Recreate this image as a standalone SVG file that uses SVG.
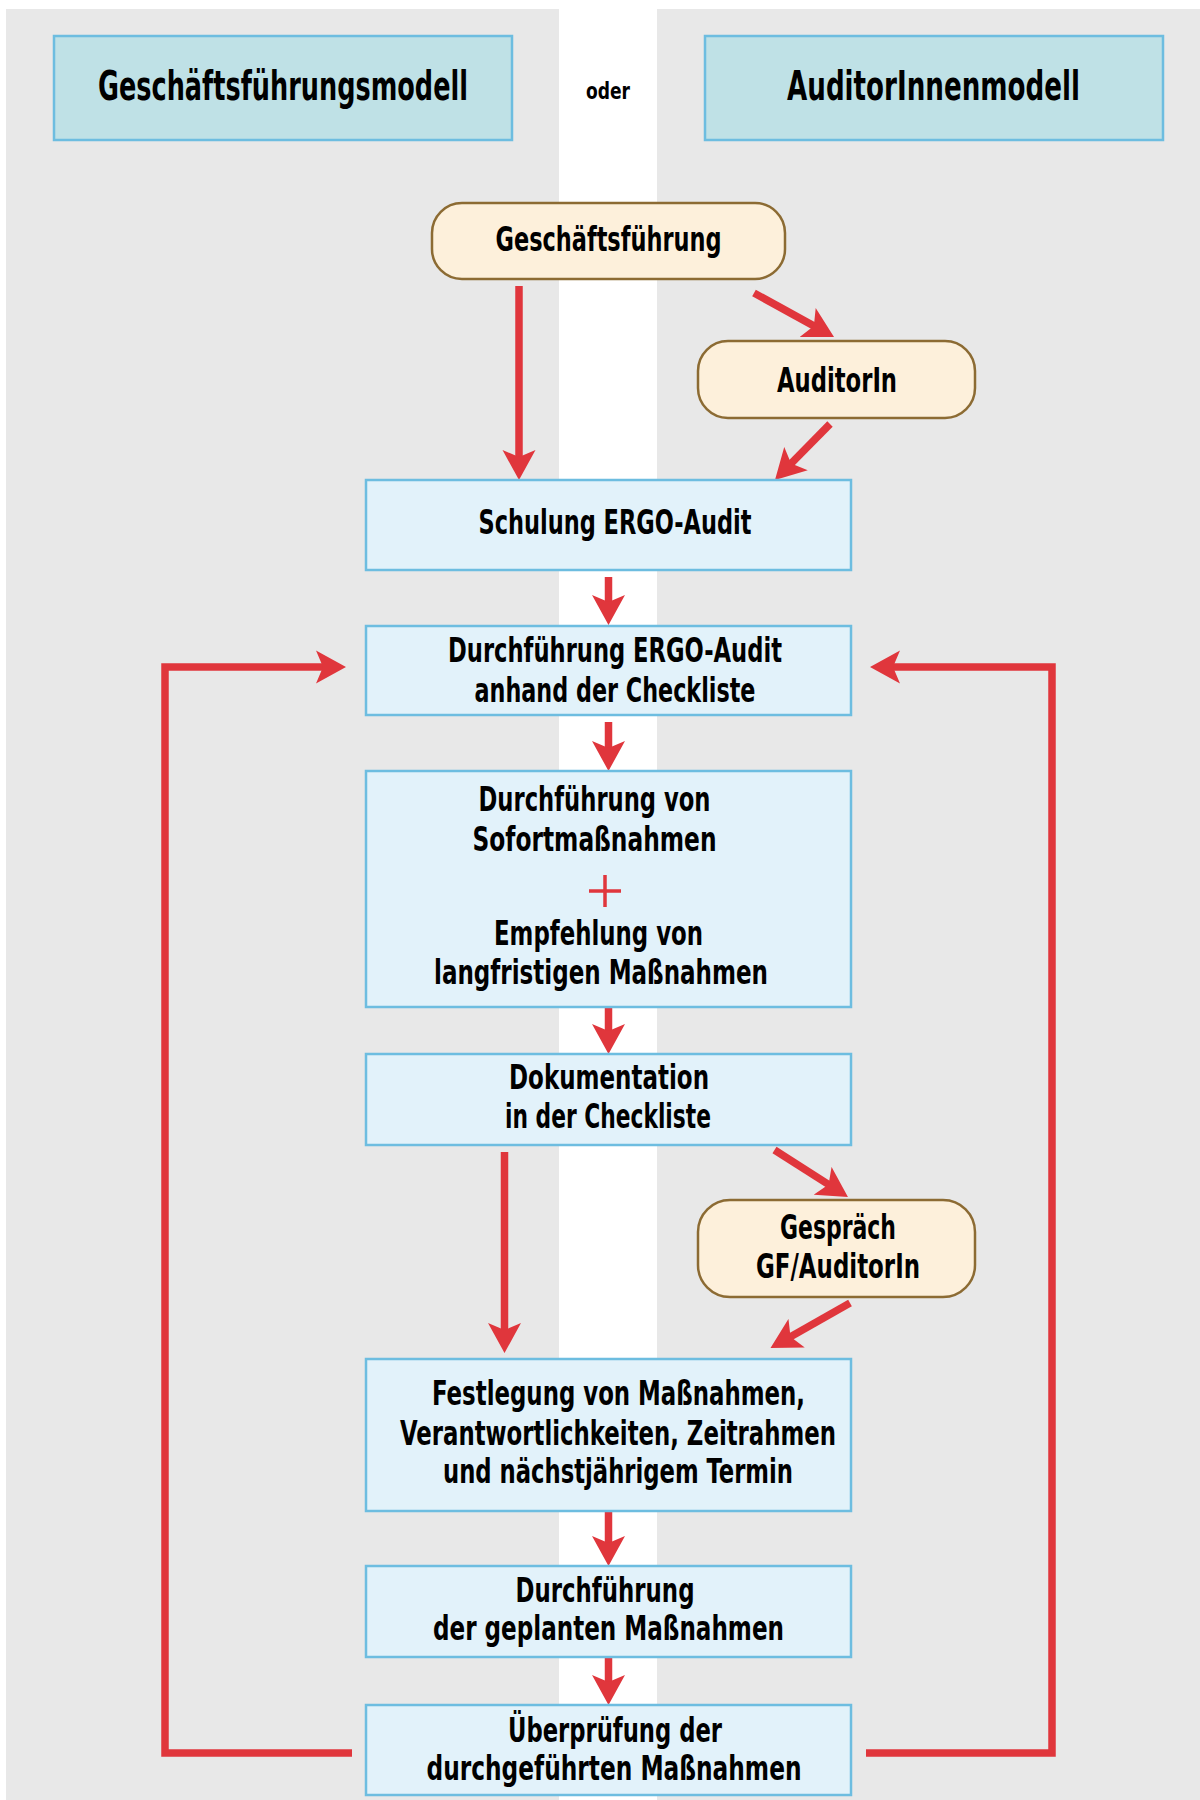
<svg xmlns="http://www.w3.org/2000/svg" width="1200" height="1800" viewBox="0 0 1200 1800">
<style>
.bg{fill:#e8e8e8}
.hdr{fill:#bfe1e6;stroke:#6dbde0;stroke-width:2.5}
.box{fill:#e2f2fa;stroke:#6dbde0;stroke-width:2.5}
.rnd{fill:#fdf0db;stroke:#8c6b33;stroke-width:2.5}
text{font-family:"Liberation Sans Narrow","DejaVu Sans Condensed","Liberation Sans",sans-serif;font-weight:bold;fill:#000;text-anchor:middle}
.t{font-size:33px}
.h{font-size:41px}
.o{font-size:23px}
.c{fill:none;stroke:#e0363c;stroke-width:7.5}
.ca{fill:none;stroke:#e0363c;stroke-width:7.5;marker-end:url(#ah)}
</style>
<defs>
<marker id="ah" markerUnits="userSpaceOnUse" viewBox="0 -17 30 34" refX="10" refY="0" markerWidth="30" markerHeight="34" orient="auto">
<path d="M0,-16.5 L30,0 L0,16.5 L7,0 Z" fill="#e0363c"/>
</marker>
</defs>
<rect class="bg" x="6" y="9" width="553" height="1791"/>
<rect class="bg" x="657" y="9" width="543" height="1791"/>

<g id="header-gf">
<rect class="hdr" x="54" y="36" width="458" height="104"/>
<text class="h" x="283" y="100" textLength="370" lengthAdjust="spacingAndGlyphs">Geschäftsführungsmodell</text>
</g>
<g id="oder">
<text class="o" x="608" y="99" textLength="44" lengthAdjust="spacingAndGlyphs">oder</text>
</g>
<g id="header-auditor">
<rect class="hdr" x="705" y="36" width="458" height="104"/>
<text class="h" x="933.5" y="100" textLength="293" lengthAdjust="spacingAndGlyphs">AuditorInnenmodell</text>
</g>

<g id="connectors">
<line class="ca" x1="519" y1="286" x2="519" y2="460"/>
<line class="ca" x1="754" y1="293" x2="816.5" y2="327.4"/>
<line class="ca" x1="830" y1="424" x2="789" y2="465.7"/>
<line class="ca" x1="608.5" y1="577" x2="608.5" y2="605"/>
<line class="ca" x1="608.5" y1="722" x2="608.5" y2="751"/>
<line class="ca" x1="608.5" y1="1008" x2="608.5" y2="1034"/>
<line class="ca" x1="504.5" y1="1152" x2="504.5" y2="1333"/>
<line class="ca" x1="774.5" y1="1150" x2="831.1" y2="1186.2"/>
<line class="ca" x1="850" y1="1303" x2="787.9" y2="1338.2"/>
<line class="ca" x1="608.5" y1="1512" x2="608.5" y2="1546"/>
<line class="ca" x1="608.5" y1="1658" x2="608.5" y2="1685"/>
<path class="ca" d="M352,1753 H165 V667 H326"/>
<path class="ca" d="M866,1753 H1052 V667 H890"/>
</g>

<g id="n-geschaeftsfuehrung">
<rect class="rnd" x="432" y="203" width="353" height="76" rx="30"/>
<text class="t" x="608.5" y="251" textLength="226" lengthAdjust="spacingAndGlyphs">Geschäftsführung</text>
</g>
<g id="n-auditorin">
<rect class="rnd" x="698" y="341" width="277" height="77" rx="30"/>
<text class="t" x="837" y="392" textLength="120" lengthAdjust="spacingAndGlyphs">AuditorIn</text>
</g>
<g id="n-schulung">
<rect class="box" x="366" y="480" width="485" height="90"/>
<text class="t" x="615" y="534" textLength="273" lengthAdjust="spacingAndGlyphs">Schulung ERGO-Audit</text>
</g>
<g id="n-durchfuehrung-audit">
<rect class="box" x="366" y="626" width="485" height="89"/>
<text class="t" x="615" y="662" textLength="334" lengthAdjust="spacingAndGlyphs">Durchführung ERGO-Audit</text>
<text class="t" x="615" y="702" textLength="281" lengthAdjust="spacingAndGlyphs">anhand der Checkliste</text>
</g>
<g id="n-sofort">
<rect class="box" x="366" y="771" width="485" height="236"/>
<text class="t" x="594.5" y="811" textLength="232" lengthAdjust="spacingAndGlyphs">Durchführung von</text>
<text class="t" x="594.5" y="851" textLength="244" lengthAdjust="spacingAndGlyphs">Sofortmaßnahmen</text>
<path d="M605,875 V907 M589,891 H621" stroke="#e0363c" stroke-width="3.5" fill="none"/>
<text class="t" x="598.5" y="945" textLength="209" lengthAdjust="spacingAndGlyphs">Empfehlung von</text>
<text class="t" x="601" y="984" textLength="334" lengthAdjust="spacingAndGlyphs">langfristigen Maßnahmen</text>
</g>
<g id="n-dokumentation">
<rect class="box" x="366" y="1054" width="485" height="91"/>
<text class="t" x="609" y="1089" textLength="200" lengthAdjust="spacingAndGlyphs">Dokumentation</text>
<text class="t" x="608" y="1128" textLength="206" lengthAdjust="spacingAndGlyphs">in der Checkliste</text>
</g>
<g id="n-gespraech">
<rect class="rnd" x="698" y="1200" width="277" height="97" rx="32"/>
<text class="t" x="838" y="1239" textLength="116" lengthAdjust="spacingAndGlyphs">Gespräch</text>
<text class="t" x="838" y="1278" textLength="164" lengthAdjust="spacingAndGlyphs">GF/AuditorIn</text>
</g>
<g id="n-festlegung">
<rect class="box" x="366" y="1359" width="485" height="152"/>
<text class="t" x="618.5" y="1405" textLength="373" lengthAdjust="spacingAndGlyphs">Festlegung von Maßnahmen,</text>
<text class="t" x="618" y="1445" textLength="436" lengthAdjust="spacingAndGlyphs">Verantwortlichkeiten, Zeitrahmen</text>
<text class="t" x="618" y="1483" textLength="350" lengthAdjust="spacingAndGlyphs">und nächstjährigem Termin</text>
</g>
<g id="n-durchfuehrung-geplant">
<rect class="box" x="366" y="1566" width="485" height="91"/>
<text class="t" x="605" y="1602" textLength="179" lengthAdjust="spacingAndGlyphs">Durchführung</text>
<text class="t" x="608.5" y="1640" textLength="351" lengthAdjust="spacingAndGlyphs">der geplanten Maßnahmen</text>
</g>
<g id="n-ueberpruefung">
<rect class="box" x="366" y="1705" width="485" height="90"/>
<text class="t" x="615" y="1742" textLength="214" lengthAdjust="spacingAndGlyphs">Überprüfung der</text>
<text class="t" x="614" y="1780" textLength="375" lengthAdjust="spacingAndGlyphs">durchgeführten Maßnahmen</text>
</g>
</svg>
